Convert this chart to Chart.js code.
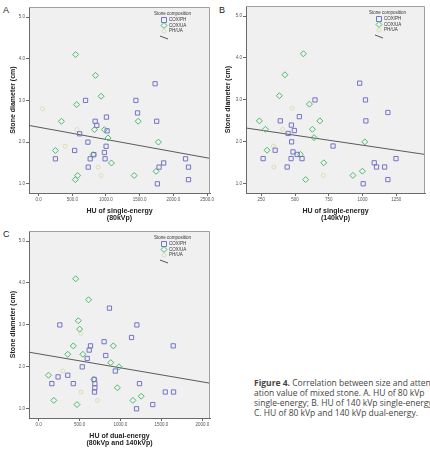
<!DOCTYPE html>
<html>
<head>
<meta charset="utf-8">
<title>Stone size vs attenuation</title>
<script src="https://cdn.jsdelivr.net/npm/chart.js"></script>
<style>
  body { margin: 0; width: 430px; height: 468px; background: #fff; position: relative; overflow: hidden;
         font-family: "Liberation Sans", Arial, sans-serif; }
  canvas { position: absolute; }
  .tag { position: absolute; font-size: 9px; color: #222; line-height: 1; }
  .caption { position: absolute; left: 254px; top: 378px; width: 176px; overflow: hidden; white-space: nowrap;
             font-family: "Open Sans", sans-serif; font-size: 8.5px; line-height: 10px; color: #444; }
</style>
</head>
<body>
<div class="tag" style="left:3px;top:6px">A</div>
<div class="tag" style="left:219px;top:6px">B</div>
<div class="tag" style="left:3px;top:230px">C</div>
<canvas id="chartA" width="215" height="225" style="left:0;top:0"></canvas>
<canvas id="chartB" width="215" height="225" style="left:215px;top:0"></canvas>
<canvas id="chartC" width="215" height="243" style="left:0;top:225px"></canvas>
<div class="caption">
  <div><b>Figure 4.</b> Correlation between size and attenu-</div>
  <div>ation value of mixed stone. A. HU of 80 kVp</div>
  <div>single-energy; B. HU of 140 kVp single-energy;</div>
  <div>C. HU of 80 kVp and 140 kVp dual-energy.</div>
</div>

<script>
// series labels
const groups = ["COX/PH", "COX/UA", "PH/UA"];
const diamTicks = [1, 2, 3, 4, 5];

// A: HU 80kVp single-energy  [HU, diameter cm]
const phA = [[250,1.6],[535,1.8],[697,3.0],[609,2.2],[732,2.0],[766,1.6],[737,1.4],[820,1.7],[840,2.5],[864,2.4],
  [1007,2.6],[1017,2.27],[1002,1.9],[977,1.75],[987,1.6],[1444,3.0],[1469,2.7],[1729,3.4],[1753,2.5],[1857,1.5],
  [1788,1.4],[1763,1.0],[2181,1.6],[2225,1.4],[2225,1.1]];
const uaA = [[550,4.1],[845,3.6],[928,3.1],[565,2.9],[339,2.5],[250,1.8],[580,1.2],[545,1.1],[830,2.3],[977,2.3],
  [1031,2.1],[810,1.7],[1081,1.5],[1478,2.5],[1778,2.0],[1419,1.2],[1744,1.3]];
const phuaA = [[59,2.8],[393,1.9],[570,2.3],[884,1.4],[928,1.2]];
const fitA = [[-142,2.40],[2544,1.61]];
const ticksA = [0, 500, 1000, 1500, 2000, 2500];

// B: HU 140kVp single-energy
const phB = [[264,1.6],[353,1.8],[391,2.5],[442,1.4],[449,2.2],[473,2.4],[475,2.0],[471,1.6],[485,1.76],[495,2.27],
  [516,1.7],[532,2.6],[552,1.6],[648,3.0],[782,1.9],[979,3.4],[1022,3.0],[1025,2.5],[1005,1.0],[1087,1.5],
  [1104,1.4],[1188,2.7],[1164,1.4],[1188,1.1],[1248,1.6]];
const uaB = [[562,4.1],[425,3.6],[384,3.1],[607,2.9],[236,2.5],[281,2.3],[293,1.8],[629,2.3],[641,2.1],[684,2.5],
  [540,1.7],[713,1.5],[579,1.1],[1017,2.0],[929,1.2],[999,1.3]];
const phuaB = [[480,2.8],[408,2.3],[341,1.9],[343,1.4],[710,1.2]];
const fitB = [[137,2.33],[1463,1.70]];
const ticksB = [250, 500, 750, 1000, 1250];

// C: HU dual-energy (80kVp and 140kVp)
const phC = [[162,1.6],[238,1.76],[259,3.0],[356,1.8],[424,1.6],[533,2.0],[594,2.2],[618,2.4],[634,2.5],[679,1.7],
  [687,1.6],[687,1.5],[683,1.4],[800,2.6],[820,2.27],[865,3.4],[937,1.9],[1135,2.7],[1200,3.0],[1196,1.0],
  [1232,1.6],[1394,1.1],[1547,1.4],[1648,1.4],[1644,2.5]];
const uaC = [[453,4.1],[610,3.6],[485,3.1],[501,2.9],[424,2.5],[356,2.3],[541,2.3],[121,1.8],[186,1.2],[469,1.1],
  [675,1.7],[881,2.1],[913,2.5],[982,2.0],[962,1.5],[1152,1.2],[1253,1.3]];
const phuaC = [[295,1.9],[517,2.8],[517,1.4],[719,1.2]];
const fitC = [[-117,2.35],[2093,1.61]];
const ticksC = [0, 500, 1000, 1500, 2000];

const colPH = "#7474c4";
const colUA = "#4cba6c";
const colPHUA = "#e0ddb4";
const styles = ["rect", "rectRot", "circle"];
const cols = [colPH, colUA, colPHUA];

const toPts = arr => arr.map(p => ({ x: p[0], y: p[1] }));

// plot background, frame and in-plot legend
const framePlugin = {
  id: "frame",
  beforeDraw(chart) {
    const { ctx, chartArea: a } = chart;
    ctx.save();
    ctx.fillStyle = "#f0f0f0";
    ctx.fillRect(a.left, a.top, a.right - a.left, a.bottom - a.top);
    ctx.restore();
  },
  afterDraw(chart) {
    const { ctx, chartArea: a } = chart;
    ctx.save();
    ctx.strokeStyle = "#a0a0a0";
    ctx.lineWidth = 1;
    ctx.beginPath();
    ctx.moveTo(a.left, a.top + 0.5);
    ctx.lineTo(a.right - 0.5, a.top + 0.5);
    ctx.lineTo(a.right - 0.5, a.bottom);
    ctx.stroke();

    // legend
    const lx = a.right - 56, ly = a.top + 7;
    ctx.font = "4.5px 'Liberation Sans', Arial";
    ctx.fillStyle = "#333";
    ctx.textBaseline = "middle";
    ctx.fillText("Stone composition", lx, ly);
    groups.forEach((g, i) => {
      const y = ly + 6 + i * 5.5, mx = lx + 10;
      ctx.strokeStyle = cols[i];
      ctx.lineWidth = 1;
      ctx.beginPath();
      if (i === 0) ctx.rect(mx - 2.5, y - 2.5, 5, 5);
      else if (i === 1) { ctx.moveTo(mx, y - 3); ctx.lineTo(mx + 3, y); ctx.lineTo(mx, y + 3); ctx.lineTo(mx - 3, y); ctx.closePath(); }
      else ctx.arc(mx, y, 2, 0, Math.PI * 2);
      ctx.stroke();
      ctx.fillStyle = "#333";
      ctx.fillText(g, lx + 15, y);
    });
    ctx.strokeStyle = "#555";
    ctx.beginPath();
    ctx.moveTo(lx + 6, ly + 22);
    ctx.lineTo(lx + 14, ly + 25);
    ctx.stroke();
    ctx.restore();
  }
};

function makeChart(id, sets, fit, xTicks, xTitle, cfg) {
  const datasets = sets.map((s, i) => ({
    label: groups[i],
    data: toPts(s),
    pointStyle: styles[i],
    pointRadius: i === 2 ? 2 : 3,
    borderColor: cols[i],
    backgroundColor: "rgba(0,0,0,0)",
    borderWidth: 1
  }));
  datasets.push({
    label: "fit",
    data: toPts(fit),
    showLine: true,
    pointRadius: 0,
    borderColor: "#5a5a5a",
    borderWidth: 1
  });

  return new Chart(document.getElementById(id), {
    type: "scatter",
    data: { datasets },
    options: {
      responsive: false,
      devicePixelRatio: 1,
      animation: false,
      events: [],
      layout: { padding: { top: cfg.top, right: cfg.right, left: 0, bottom: 0 } },
      plugins: { legend: { display: false }, tooltip: { enabled: false } },
      scales: {
        x: {
          type: "linear",
          min: fit[0][0],
          max: fit[1][0],
          afterBuildTicks: s => { s.ticks = xTicks.map(v => ({ value: v })); },
          afterFit: s => { s.height = cfg.xh; },
          ticks: {
            font: { size: 4.5 }, color: "#555", padding: 1, maxRotation: 0,
            callback: v => cfg.dec ? v.toFixed(1) : String(v)
          },
          grid: { display: true, drawOnChartArea: false, drawTicks: true, tickLength: 3, color: "#666" },
          border: { display: true, color: "#6a6a6a", width: 1 },
          title: {
            display: true, text: xTitle, color: "#222",
            font: { size: 7, weight: "bold", lineHeight: 1.05 },
            padding: { top: 0, bottom: cfg.tpb }
          }
        },
        y: {
          type: "linear",
          min: 0.78,
          max: 5.24,
          afterBuildTicks: s => { s.ticks = diamTicks.map(v => ({ value: v })); },
          afterFit: s => { s.width = cfg.yw; },
          ticks: { font: { size: 4.5 }, color: "#555", padding: 1, callback: v => v.toFixed(1) },
          grid: { display: true, drawOnChartArea: false, drawTicks: true, tickLength: 3, color: "#666" },
          border: { display: true, color: "#6a6a6a", width: 1 },
          title: {
            display: true, text: "Stone diameter (cm)", color: "#222",
            font: { size: 7, weight: "bold", lineHeight: 1.2 },
            padding: { top: 9, bottom: 0 }
          }
        }
      }
    },
    plugins: [framePlugin]
  });
}

makeChart("chartA", [phA, uaA, phuaA], fitA, ticksA, ["HU of single-energy", "(80kVp)"],
  { top: 7, right: 3, yw: 29, xh: 32, tpb: 3, dec: true });
makeChart("chartB", [phB, uaB, phuaB], fitB, ticksB, ["HU of single-energy", "(140kVp)"],
  { top: 6, right: 0, yw: 31, xh: 32, tpb: 3, dec: false });
makeChart("chartC", [phC, uaC, phuaC], fitC, ticksC, ["HU of dual-energy", "(80kVp and 140kVp)"],
  { top: 6, right: 3, yw: 29, xh: 50, tpb: 21, dec: true });
</script>
</body>
</html>
